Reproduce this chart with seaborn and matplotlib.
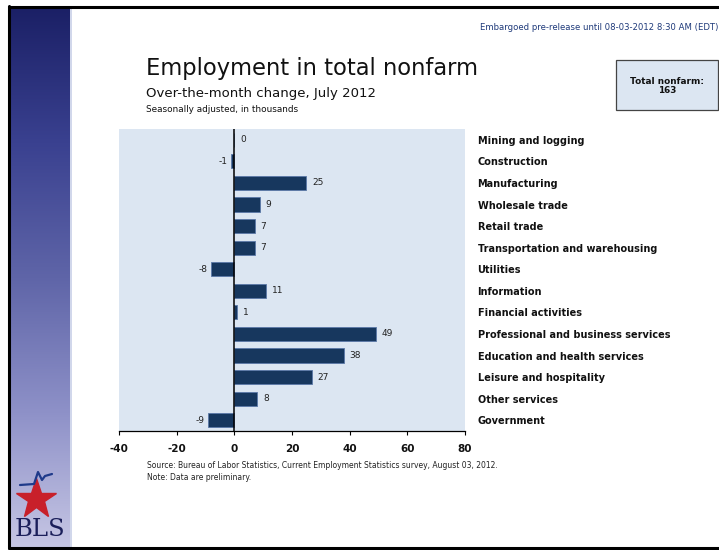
import numpy as np
import pandas as pd
import matplotlib
matplotlib.use("Agg")
import matplotlib.pyplot as plt
import seaborn as sns
from matplotlib.patches import Rectangle
from matplotlib.colors import LinearSegmentedColormap

categories = [
    "Mining and logging", "Construction", "Manufacturing", "Wholesale trade",
    "Retail trade", "Transportation and warehousing", "Utilities", "Information",
    "Financial activities", "Professional and business services",
    "Education and health services", "Leisure and hospitality",
    "Other services", "Government",
]
values = [0, -1, 25, 9, 7, 7, -8, 11, 1, 49, 38, 27, 8, -9]
x_ticks = [-40, -20, 0, 20, 40, 60, 80]
total_nonfarm = 163

df = pd.DataFrame({"industry": categories, "change": values})

sns.set_theme(style="white")
plt.rcParams["font.family"] = ["DejaVu Sans"]

W, H = 719, 550
fig = plt.figure(figsize=(W / 100, H / 100), dpi=100)
fig.patch.set_facecolor("white")

def fx(px):
    return px / W

def fy(py):
    return 1 - py / H

# sidebar gradient
side = fig.add_axes([fx(11), fy(548), fx(70) - fx(11), fy(8) - fy(548)])
cmap = LinearSegmentedColormap.from_list(
    "side", ["#1b2066", "#3a4190", "#5f65a8", "#8e91c8", "#c6c6e4"])
grad = np.linspace(0, 1, 256).reshape(-1, 1)
side.imshow(grad, aspect="auto", cmap=cmap, extent=[0, 1, 0, 1], origin="upper")
side.set_axis_off()
fig.add_artist(plt.Line2D([fx(70.5), fx(70.5)], [fy(548), fy(8)],
                          color="#c8d0e8", lw=1.2))

# slide border
fig.add_artist(plt.Line2D([fx(9), fx(9)], [fy(548), fy(6)], color="black", lw=2.2))
fig.add_artist(plt.Line2D([fx(9), fx(719)], [fy(6.5), fy(6.5)], color="black", lw=2.2))
fig.add_artist(plt.Line2D([fx(9), fx(719)], [fy(548), fy(548)], color="black", lw=2.2))

# BLS logo (decoration)
fig.text(fx(40), fy(530), "BLS", family="DejaVu Serif", fontsize=17.5,
         color="#1b1f5a", ha="center", va="center")
fig.add_artist(plt.Line2D([fx(36)], [fy(499)], marker="*", markersize=30,
                          color="#c8202a", markeredgecolor="#c8202a"))
fig.add_artist(plt.Line2D([fx(20), fx(34), fx(38), fx(42), fx(45), fx(52)],
                          [fy(485), fy(484), fy(472), fy(480), fy(476), fy(474)],
                          color="#1f3a8a", lw=1.6))

# main axes
ax = fig.add_axes([fx(119), fy(431), fx(465) - fx(119), fy(129) - fy(431)])
sns.barplot(data=df, x="change", y="industry", orient="h", ax=ax,
            color="#17375e", width=0.66, edgecolor="#5a78a8", linewidth=0.6,
            saturation=1)
ax.set_facecolor("#dce6f2")
ax.set_xlim(-40, 80)
ax.set_ylim(len(categories) - 0.5, -0.5)
ax.set_xticks(x_ticks)
ax.set_xticklabels([str(t) for t in x_ticks], fontsize=7.5, fontweight="bold",
                   color="#111111")
ax.set_xlabel("")
ax.set_ylabel("")
ax.axvline(0, color="black", lw=1.1)
for s in ["top", "right", "left"]:
    ax.spines[s].set_visible(False)
ax.spines["bottom"].set_color("black")
ax.spines["bottom"].set_linewidth(0.9)
ax.tick_params(axis="x", direction="out", length=3, width=0.8, color="black",
               pad=6, bottom=True)
ax.yaxis.tick_right()
ax.tick_params(axis="y", length=0, pad=9)
for lbl in ax.get_yticklabels():
    lbl.set_fontsize(7)
    lbl.set_fontweight("bold")
    lbl.set_color("#111111")
    lbl.set_horizontalalignment("left")

for i, v in enumerate(values):
    if v >= 0:
        ax.annotate(str(v), xy=(v, i), xytext=(4, 0), textcoords="offset points",
                    ha="left", va="center", fontsize=6.5, color="#222222")
    else:
        ax.annotate(str(v), xy=(v, i), xytext=(-3, 0), textcoords="offset points",
                    ha="right", va="center", fontsize=6.5, color="#222222")

# titles
fig.text(fx(146), fy(68), "Employment in total nonfarm", fontsize=16.3,
         color="#111111", ha="left", va="center")
fig.text(fx(146), fy(93), "Over-the-month change, July 2012", fontsize=9.5,
         color="#111111", ha="left", va="center")
fig.text(fx(146), fy(110), "Seasonally adjusted, in thousands", fontsize=6.4,
         color="#111111", ha="left", va="center")
fig.text(fx(480), fy(27), "Embargoed pre-release until 08-03-2012 8:30 AM (EDT)",
         fontsize=6.1, color="#1f3a7a", ha="left", va="center")

# total nonfarm box
fig.add_artist(Rectangle((fx(616), fy(110)), fx(718) - fx(616), fy(60) - fy(110),
                         facecolor="#dce6f2", edgecolor="#444444", lw=0.9))
fig.text(fx(667), fy(86), f"Total nonfarm:\n{total_nonfarm}", fontsize=6.4,
         fontweight="bold", color="#111111", ha="center", va="center",
         linespacing=1.1)

# source
fig.text(fx(147), fy(466), "Source: Bureau of Labor Statistics, Current Employment "
         "Statistics survey, August 03, 2012.", fontsize=5.5, color="#222222",
         ha="left", va="center")
fig.text(fx(147), fy(478), "Note: Data are preliminary.", fontsize=5.5,
         color="#222222", ha="left", va="center")

fig.savefig("out.png", dpi=100)
